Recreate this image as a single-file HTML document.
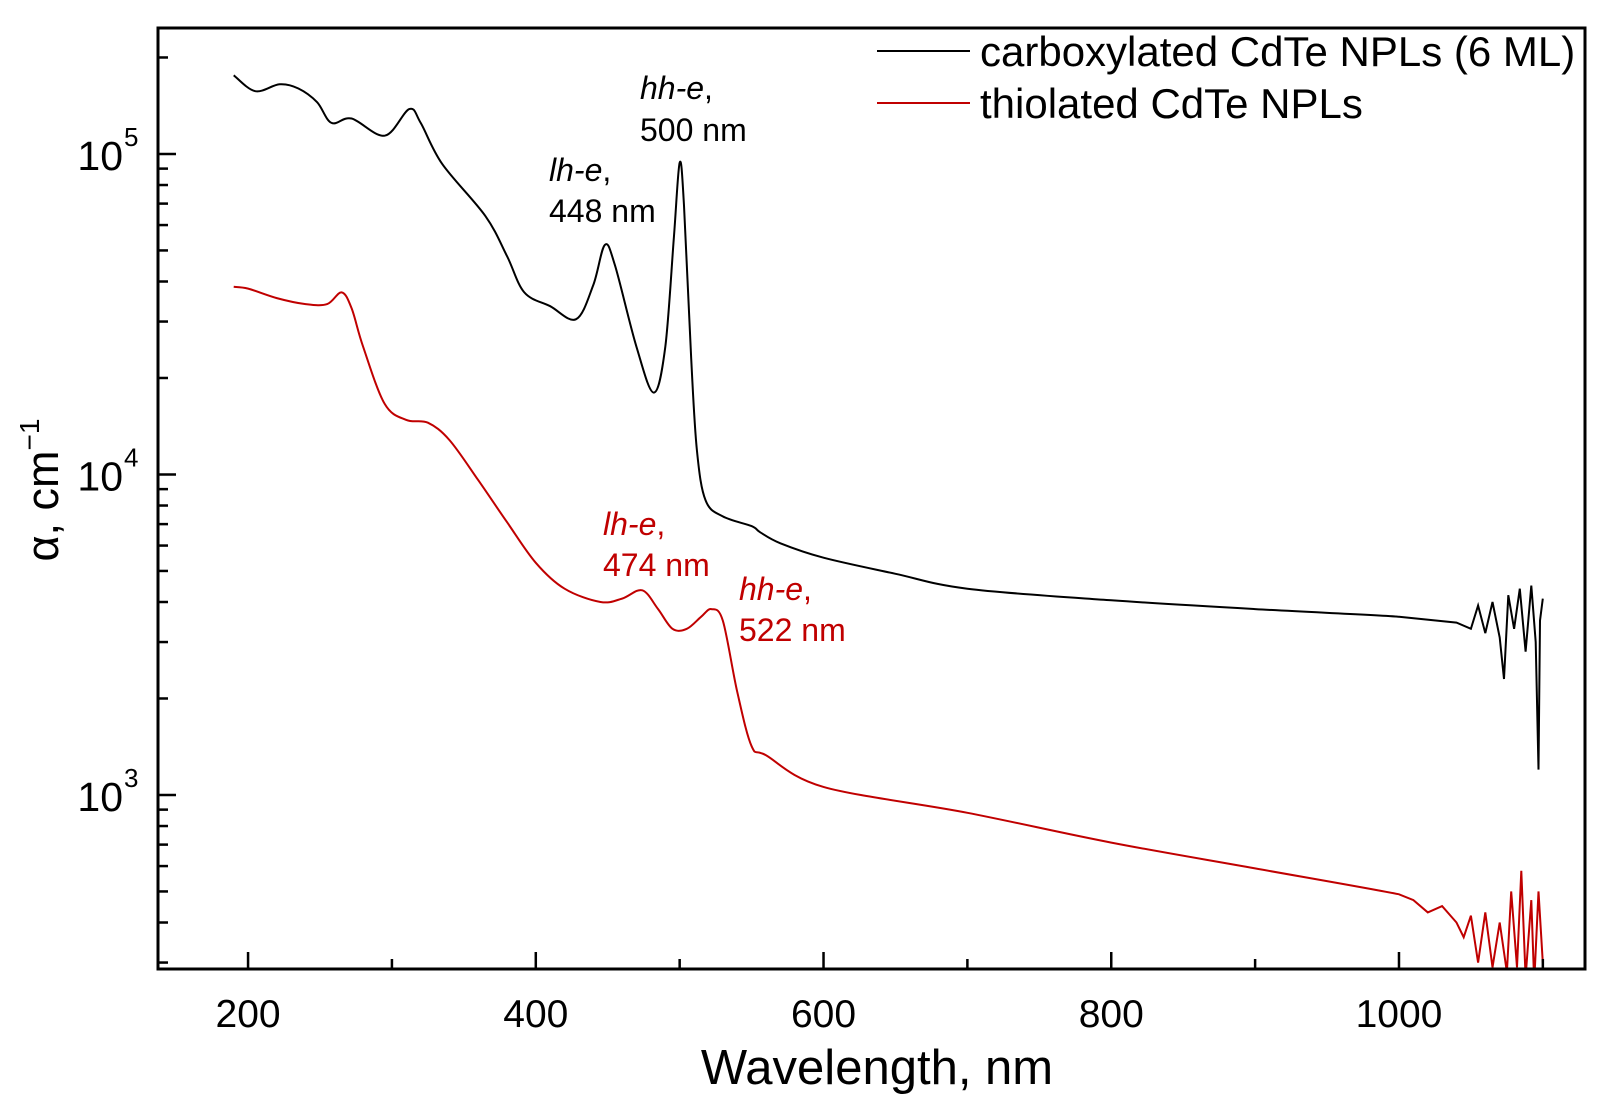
<!DOCTYPE html>
<html><head><meta charset="utf-8">
<style>
body{margin:0;background:#fff;}
svg{display:block;font-family:"Liberation Sans",Arial,sans-serif;}
</style></head>
<body>
<svg id="chart" width="1603" height="1100" viewBox="0 0 1603 1100" xmlns="http://www.w3.org/2000/svg">
<rect x="0" y="0" width="1603" height="1100" fill="#fff"/>
<g id="plot"></g>
<g id="axes"></g>
<g>
 <line x1="877" y1="51" x2="970" y2="51" stroke="#000" stroke-width="2"/>
 <text x="980" y="66" font-size="42">carboxylated CdTe NPLs (6 ML)</text>
 <line x1="877" y1="103" x2="970" y2="103" stroke="#c00000" stroke-width="2"/>
 <text x="980" y="118" font-size="42">thiolated CdTe NPLs</text>
</g>
<g font-size="32">
 <text x="640" y="99"><tspan font-style="italic">hh-e</tspan>,</text>
 <text x="640" y="141">500 nm</text>
 <text x="549" y="181"><tspan font-style="italic">lh-e</tspan>,</text>
 <text x="549" y="222">448 nm</text>
 <text x="603" y="535" fill="#c00000"><tspan font-style="italic">lh-e</tspan>,</text>
 <text x="603" y="576" fill="#c00000">474 nm</text>
 <text x="739" y="600" fill="#c00000"><tspan font-style="italic">hh-e</tspan>,</text>
 <text x="739" y="641" fill="#c00000">522 nm</text>
</g>
<text x="877" y="1084" font-size="49" text-anchor="middle">Wavelength, nm</text>
<text transform="translate(58,490) rotate(-90)" font-size="45" text-anchor="middle">α, cm<tspan font-size="28" dy="-19">−1</tspan></text>
</svg>
<script>
const blackX=[190,205,222,235,248,258,272,295,312,320,335,365,380,392,410,428,440,448,455,470,482,490,496,500,503,508,512,518,530,550,556,570,600,650,700,800,900,1000,1040,1050,1055,1060,1065,1070,1073,1076,1080,1084,1088,1092,1095,1097,1098,1100];
const blackY=[176000,157000,165000,160000,145000,125000,129000,114000,138000,125000,93000,64000,48000,37000,33500,30500,39000,52000,45000,25000,18000,25000,55000,94000,69000,23000,11900,8300,7400,6900,6600,6100,5500,4900,4400,4050,3800,3600,3450,3300,3900,3200,4000,3100,2300,4200,3300,4400,2800,4500,3000,1200,3500,4100];
const redX=[190,200,220,240,255,265,272,280,295,310,325,340,360,380,400,420,445,460,474,485,495,505,515,522,530,540,550,560,600,700,800,900,1000,1010,1020,1030,1040,1045,1050,1055,1060,1065,1070,1075,1078,1082,1085,1088,1092,1094,1097,1100];
const redY=[38500,38000,35500,34000,34000,37000,33000,25000,16600,14800,14500,12800,9600,7100,5300,4400,4000,4100,4350,3800,3300,3300,3600,3800,3500,2100,1420,1330,1060,880,710,590,490,470,430,450,400,360,420,300,430,290,400,280,500,290,580,270,470,260,500,300];
const xTicks=[200,400,600,800,1000];
const yDecades=[3,4,5];

const L=158,R=1585,T=28,B=969;
const xMin=137.4,xMax=1129.3,lMin=2.457,lMax=5.393;
const xs=v=>L+(v-xMin)/(xMax-xMin)*(R-L);
const ys=v=>B-(Math.log10(v)-lMin)/(lMax-lMin)*(B-T);
const NS='http://www.w3.org/2000/svg';
const plot=document.getElementById('plot'),axes=document.getElementById('axes');
function mk(t,a,p){const e=document.createElementNS(NS,t);for(const k in a)e.setAttribute(k,a[k]);p.appendChild(e);return e;}

const cp=mk('clipPath',{id:'clip'},plot);mk('rect',{x:L,y:T,width:R-L,height:B-T},cp);
function series(xa,ya,col,name){
  const P=xa.map((x,i)=>[xs(x),ys(ya[i])]);
  let d='M'+P[0][0].toFixed(1)+','+P[0][1].toFixed(1);
  for(let i=0;i<P.length-1;i++){
    if(xa[i]>=990){d+='L'+P[i+1][0].toFixed(1)+','+P[i+1][1].toFixed(1);continue;}
    const p0=P[Math.max(0,i-1)],p1=P[i],p2=P[i+1],p3=P[Math.min(P.length-1,i+2)];
    const k=1/6;
    const c1=[p1[0]+(p2[0]-p0[0])*k,p1[1]+(p2[1]-p0[1])*k];
    const c2=[p2[0]-(p3[0]-p1[0])*k,p2[1]-(p3[1]-p1[1])*k];
    d+='C'+c1.map(v=>v.toFixed(1)).join(',')+' '+c2.map(v=>v.toFixed(1)).join(',')+' '+p2.map(v=>v.toFixed(1)).join(',');
  }
  const p=mk('path',{d:d,fill:'none',stroke:col,'stroke-width':2,'clip-path':'url(#clip)'},plot);
  
  
}
series(blackX,blackY,'#000','carboxylated-series-line');
series(redX,redY,'#c00000','thiolated-series-line');

const fr=mk('rect',{x:L,y:T,width:R-L,height:B-T,fill:'none',stroke:'#000','stroke-width':3},axes);


for(let v=200;v<=1100;v+=100){
  const major=xTicks.includes(v);const x=xs(v);
  const t=mk('line',{x1:x,x2:x,y1:B,y2:B-(major?17:10),stroke:'#000','stroke-width':2.5},axes);
  
  
  if(major){const tx=mk('text',{x:x,y:1027,'font-size':39,'text-anchor':'middle'},axes);tx.textContent=v;
    
    }
}
for(let d=2;d<=5;d++){
  for(let m=1;m<=9;m++){
    const v=m*Math.pow(10,d);const l=Math.log10(v);
    if(l<lMin||l>lMax)continue;const y=ys(v);
    const t=mk('line',{x1:L,x2:L+(m===1?18:10),y1:y,y2:y,stroke:'#000','stroke-width':2.5},axes);
    
    
  }
}
yDecades.forEach(d=>{
  const y=ys(Math.pow(10,d));
  const tx=mk('text',{x:123,y:y+16,'font-size':41,'text-anchor':'end'},axes);
  tx.textContent='10';
  
  
  const sp=mk('text',{x:124,y:y-8,'font-size':26},axes);sp.textContent=d;
  
  
});
</script>
</body></html>
